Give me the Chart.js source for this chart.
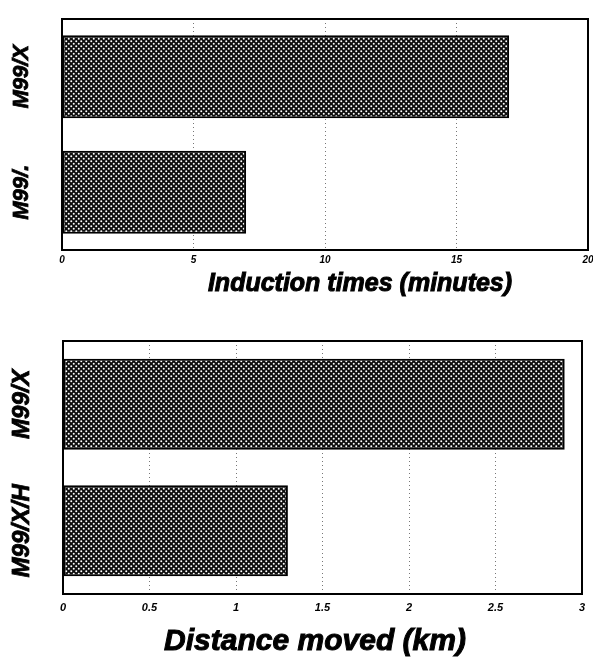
<!DOCTYPE html>
<html>
<head>
<meta charset="utf-8">
<script src="https://cdn.jsdelivr.net/npm/chart.js@4/dist/chart.umd.min.js"></script>
<style>
  body{margin:0;background:#fff;}
  #wrap{position:relative;width:593px;height:666px;}
  canvas{position:absolute;left:0;}
</style>
</head>
<body>
<div id="wrap">
  <canvas id="induction" width="593" height="300" style="top:0"></canvas>
  <canvas id="distance" width="593" height="366" style="top:300px"></canvas>
</div>
<script>
// induction times per strain
const inductionLabels=["M99/X","M99/."];
const inductionMinutes=[17,7];
const inductionMax=20, inductionStep=5;

// distance moved per strain
const distanceLabels=["M99/X","M99/X/H"];
const distanceKm=[2.9,1.3];
const distanceMax=3, distanceStep=0.5;

const FONT="'Liberation Sans', Arial, sans-serif";
Chart.defaults.font.family=FONT;
Chart.defaults.color="#000";

// dark fill with white dots, like a halftone screen
function dotPattern(){
  const c=document.createElement("canvas");
  c.width=5;c.height=5;
  const g=c.getContext("2d");
  g.fillStyle="#0e0e0e";
  g.fillRect(0,0,5,5);
  g.fillStyle="#fff";
  g.beginPath();g.arc(1.25,1.25,1.0,0,Math.PI*2);g.fill();
  g.beginPath();g.arc(3.75,3.75,1.0,0,Math.PI*2);g.fill();
  return g.createPattern(c,"repeat");
}

// bold text with a thin outline so it reads heavier
function heavyText(ctx,txt,x,y,w){
  ctx.fillText(txt,x,y);
  ctx.lineWidth=w;
  ctx.strokeText(txt,x,y);
}

// frame round the plot, rotated category names on the left, axis title below
const framePlugin={
  id:"frame",
  afterDraw(chart,args,opts){
    const {ctx,chartArea:a}=chart;
    ctx.save();
    ctx.strokeStyle="#000";
    ctx.lineWidth=2;
    ctx.strokeRect(a.left,a.top,a.right-a.left,a.bottom-a.top);
    const y=chart.scales.y;
    ctx.fillStyle="#000";
    ctx.font="italic bold "+opts.size+"px "+FONT;
    ctx.textAlign="center";
    ctx.textBaseline="middle";
    chart.data.labels.forEach((lab,i)=>{
      ctx.save();
      ctx.translate(opts.x,y.getPixelForValue(i));
      ctx.rotate(-Math.PI/2);
      heavyText(ctx,lab,0,0,0.8);
      ctx.restore();
    });
    ctx.font="italic bold "+opts.titleSize+"px "+FONT;
    ctx.textBaseline="alphabetic";
    heavyText(ctx,opts.title,opts.titleX,opts.titleY,1);
    ctx.restore();
  }
};

function makeChart(id,labels,values,max,step,title,o){
  return new Chart(document.getElementById(id),{
    type:"bar",
    data:{
      labels:labels,
      datasets:[{
        data:values,
        backgroundColor:dotPattern(),
        borderColor:"#000",
        borderWidth:2,
        borderSkipped:false,
        barPercentage:0.72,
        categoryPercentage:1
      }]
    },
    options:{
      indexAxis:"y",
      responsive:false,
      animation:false,
      devicePixelRatio:1,
      layout:{padding:{top:o.top,right:o.right,left:0,bottom:0}},
      plugins:{
        legend:{display:false},
        tooltip:{enabled:false},
        frame:{x:22,size:o.labelSize,title:title,titleSize:o.titleSize,titleX:o.titleX,titleY:o.titleY}
      },
      scales:{
        x:{
          min:0,max:max,
          ticks:{stepSize:step,padding:o.tickPad,font:{size:o.tickSize,style:"italic",weight:"bold"},
            callback:v=>String(v)},
          grid:{color:"#777",lineWidth:1,drawTicks:false},
          border:{display:false,dash:[1,3]},
          afterFit(s){s.height=o.xHeight;s.paddingLeft=0;s.paddingRight=0;}
        },
        y:{
          ticks:{display:false},
          grid:{display:false},
          border:{display:false},
          afterFit(s){s.width=o.yWidth;}
        }
      }
    },
    plugins:[framePlugin]
  });
}

makeChart("induction",inductionLabels,inductionMinutes,inductionMax,inductionStep,"Induction times (minutes)",
  {top:19,right:5,xHeight:50,yWidth:62,tickPad:4,tickSize:10,labelSize:22,titleSize:25,titleX:360,titleY:291});
makeChart("distance",distanceLabels,distanceKm,distanceMax,distanceStep,"Distance moved (km)",
  {top:41,right:11,xHeight:72,yWidth:63,tickPad:7,tickSize:11,labelSize:24,titleSize:30,titleX:315,titleY:350});
</script>
</body>
</html>
